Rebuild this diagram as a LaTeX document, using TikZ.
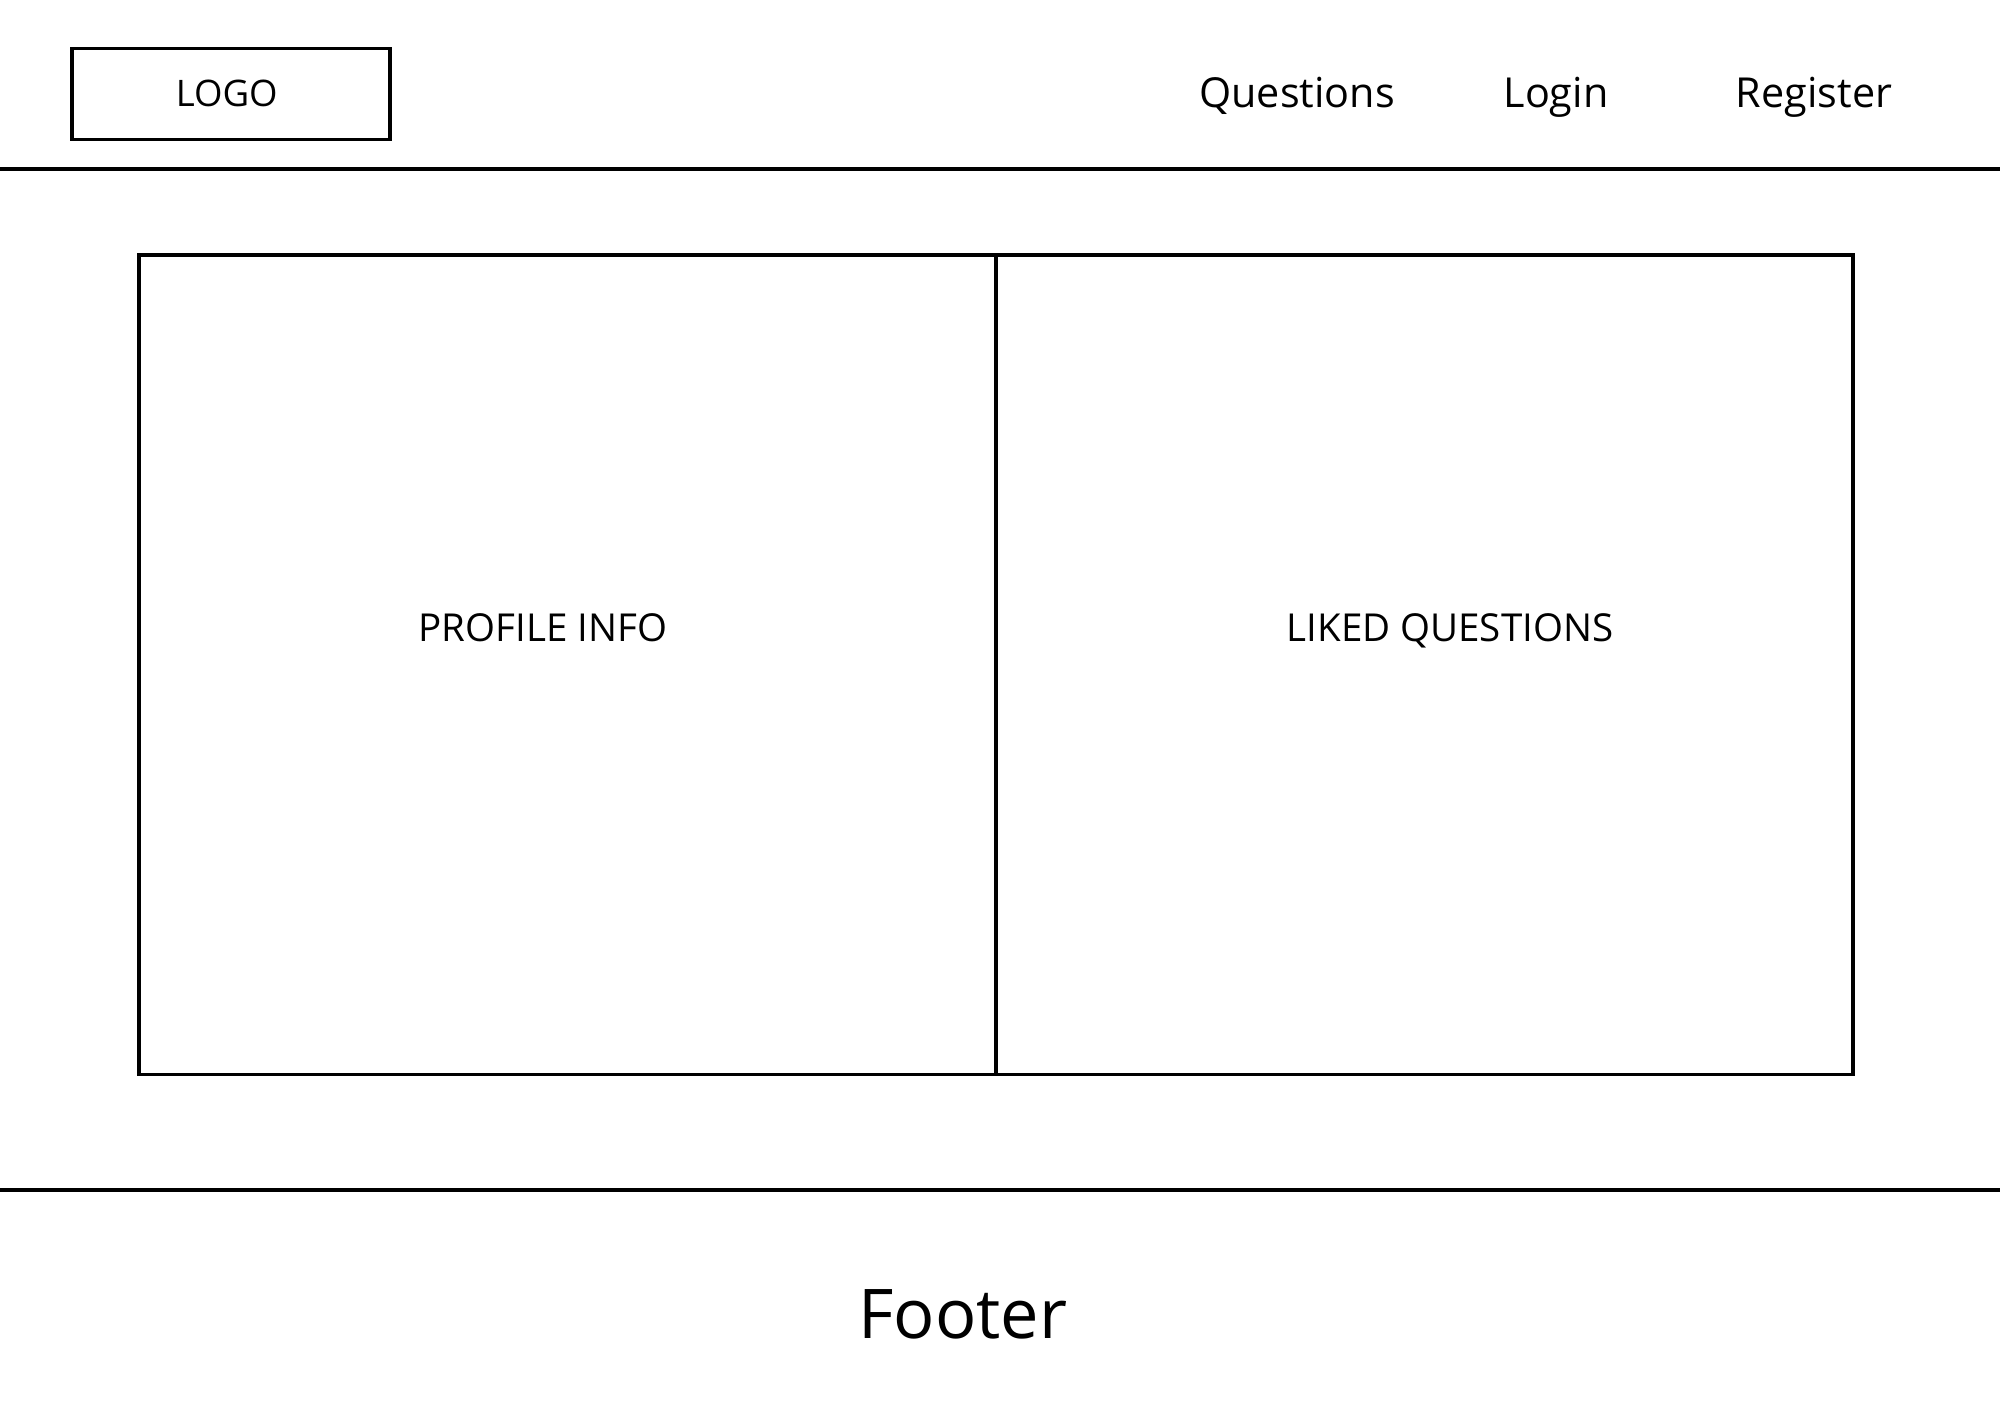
\documentclass[tikz,border=0pt]{standalone}
\usepackage{fontspec}
\setmainfont{Open Sans}
\usetikzlibrary{positioning}

\begin{document}
\begin{tikzpicture}[x=0.01cm,y=-0.01cm,line width=0.95pt,
    logobox/.style={draw,minimum width=3.18cm,minimum height=0.91cm,inner sep=0pt,font=\fontsize{10.4}{13}\selectfont},
    navitem/.style={anchor=base,font=\fontsize{11.75}{14}\selectfont},
    panel/.style={draw,minimum width=8.565cm,minimum height=8.19cm,inner sep=0pt,outer sep=0pt},
    paneltext/.style={anchor=base,font=\fontsize{10.95}{14}\selectfont}]
  \useasboundingbox (0,0) rectangle (2000,1414);
  % header
  \node[logobox] (logo) at (231,93.7) {\hspace*{-2.4pt}LOGO};
  \node[navitem] (questions) at (1297,107) {Questions};
  \node[navitem] (login) at (1556,107) {Login};
  \node[navitem] (register) at (1814,107) {Register};
  \coordinate (head_l) at (0,169);
  \coordinate (head_r) at (2000,169);
  \draw (head_l) -- (head_r);
  % content
  \node[panel,anchor=north west] (profile) at (139,255) {};
  \node[panel,right=0pt of profile] (liked) {};
  \node[paneltext] (profile_t) at (543,641) {PROFILE INFO};
  \node[paneltext] (liked_t) at (1450,641) {LIKED QUESTIONS};
  % footer
  \coordinate (foot_l) at (0,1190);
  \coordinate (foot_r) at (2000,1190);
  \draw (foot_l) -- (foot_r);
  \node[anchor=base,font=\fontsize{19.5}{23}\selectfont] (footer) at (963,1338) {Footer};
\end{tikzpicture}
\end{document}
